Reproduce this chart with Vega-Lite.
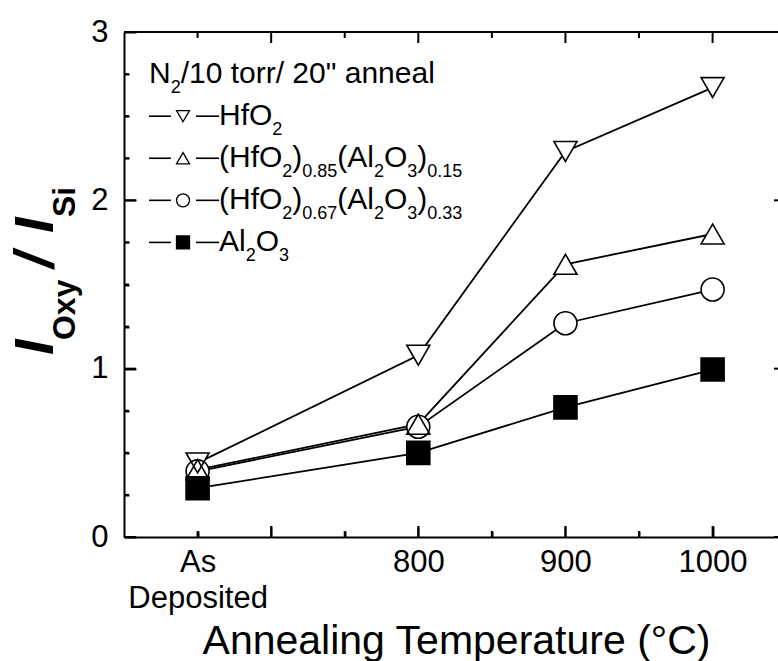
{
  "$schema": "https://vega.github.io/schema/vega-lite/v6.json",
  "width": 654,
  "height": 505,
  "autosize": {"type": "none"},
  "padding": {"left": 124, "top": 32, "right": 0, "bottom": 124},
  "background": "white",
  "config": {
    "view": {"stroke": null, "fill": null},
    "font": "Liberation Sans",
    "axis": {
      "grid": false,
      "domainColor": "black",
      "domainWidth": 2,
      "tickColor": "black",
      "tickWidth": 2,
      "labelColor": "black",
      "labelFont": "Liberation Sans",
      "labelFontSize": 31,
      "labelFlush": false,
      "labelOverlap": false,
      "titleColor": "black",
      "titleFont": "Liberation Sans",
      "titleFontWeight": "normal",
      "zindex": 1
    }
  },
  "datasets": {
    "series": [
      {"series": "HfO2", "temp": 650, "value": 0.44},
      {"series": "HfO2", "temp": 800, "value": 1.08},
      {"series": "HfO2", "temp": 900, "value": 2.29},
      {"series": "HfO2", "temp": 1000, "value": 2.67},
      {"series": "(HfO2)0.85(Al2O3)0.15", "temp": 650, "value": 0.40},
      {"series": "(HfO2)0.85(Al2O3)0.15", "temp": 800, "value": 0.67},
      {"series": "(HfO2)0.85(Al2O3)0.15", "temp": 900, "value": 1.62},
      {"series": "(HfO2)0.85(Al2O3)0.15", "temp": 1000, "value": 1.80},
      {"series": "(HfO2)0.67(Al2O3)0.33", "temp": 650, "value": 0.39},
      {"series": "(HfO2)0.67(Al2O3)0.33", "temp": 800, "value": 0.655},
      {"series": "(HfO2)0.67(Al2O3)0.33", "temp": 900, "value": 1.27},
      {"series": "(HfO2)0.67(Al2O3)0.33", "temp": 1000, "value": 1.47},
      {"series": "Al2O3", "temp": 650, "value": 0.29},
      {"series": "Al2O3", "temp": 800, "value": 0.50},
      {"series": "Al2O3", "temp": 900, "value": 0.77},
      {"series": "Al2O3", "temp": 1000, "value": 0.995}
    ],
    "xmajor": [{"v": 700}, {"v": 800}, {"v": 900}, {"v": 1000}],
    "xminor": [{"v": 650}, {"v": 750}, {"v": 850}, {"v": 950}],
    "ymajor": [{"v": 0}, {"v": 1}, {"v": 2}, {"v": 3}],
    "yminor": [{"v": 0.25}, {"v": 0.5}, {"v": 0.75}, {"v": 1.25}, {"v": 1.5}, {"v": 1.75}, {"v": 2.25}, {"v": 2.5}, {"v": 2.75}],
    "legend": [
      {"series": "HfO2", "y": 2.5},
      {"series": "(HfO2)0.85(Al2O3)0.15", "y": 2.25},
      {"series": "(HfO2)0.67(Al2O3)0.33", "y": 2.0},
      {"series": "Al2O3", "y": 1.75}
    ],
    "legtext": [
      {"t": "N", "x": 617.0, "y": 2.75},
      {"t": "/10 torr/ 20\" anneal", "x": 638.5, "y": 2.75},
      {"t": "HfO", "x": 664.6, "y": 2.5},
      {"t": "(HfO", "x": 664.6, "y": 2.25},
      {"t": ")", "x": 714.4, "y": 2.25},
      {"t": "(Al", "x": 744.9, "y": 2.25},
      {"t": "O", "x": 776.7, "y": 2.25},
      {"t": ")", "x": 799.3, "y": 2.25},
      {"t": "(HfO", "x": 664.6, "y": 2.0},
      {"t": ")", "x": 714.4, "y": 2.0},
      {"t": "(Al", "x": 744.9, "y": 2.0},
      {"t": "O", "x": 776.7, "y": 2.0},
      {"t": ")", "x": 799.3, "y": 2.0},
      {"t": "Al", "x": 664.6, "y": 1.75},
      {"t": "O", "x": 689.5, "y": 1.75}
    ],
    "legsub": [
      {"t": "2", "x": 631.7, "y": 2.75},
      {"t": "2", "x": 700.8, "y": 2.5},
      {"t": "2", "x": 707.6, "y": 2.25},
      {"t": "0.85", "x": 721.2, "y": 2.25},
      {"t": "2", "x": 769.9, "y": 2.25},
      {"t": "3", "x": 792.5, "y": 2.25},
      {"t": "0.15", "x": 806.1, "y": 2.25},
      {"t": "2", "x": 707.6, "y": 2.0},
      {"t": "0.67", "x": 721.2, "y": 2.0},
      {"t": "2", "x": 769.9, "y": 2.0},
      {"t": "3", "x": 792.5, "y": 2.0},
      {"t": "0.33", "x": 806.1, "y": 2.0},
      {"t": "2", "x": 682.7, "y": 1.75},
      {"t": "3", "x": 705.3, "y": 1.75}
    ],
    "ytitle": [
      {"t": "I", "x": 551.7, "y": 1.081},
      {"t": "/", "x": 551.7, "y": 1.598},
      {"t": "I", "x": 551.7, "y": 1.806}
    ],
    "ytitlesub": [
      {"t": "Oxy", "x": 566.7, "y": 1.170},
      {"t": "Si", "x": 566.7, "y": 1.901}
    ]
  },
  "resolve": {
    "scale": {"x": "shared", "y": "shared", "size": "independent"},
    "axis": {"x": "independent", "y": "independent"}
  },
  "layer": [
    {
      "data": {"name": "series"},
      "mark": {"type": "line", "color": "black", "strokeWidth": 1.8},
      "encoding": {
        "x": {
          "field": "temp", "type": "quantitative",
          "scale": {"domain": [600, 1044.44], "nice": false, "zero": false},
          "axis": {
            "orient": "top",
            "offset": -505,
            "zindex": 1,
            "values": [650, 700, 750, 800, 850, 900, 950, 1000],
            "tickSize": 11,
            "tickColor": "black",
            "tickWidth": 2,
            "tickDash": {"condition": {"test": "datum.value % 100 !== 0", "value": [6, 100]}, "value": []},
            "domainColor": "black",
            "labelPadding": -21,
            "labelBaseline": "top",
            "labelLineHeight": 36,
            "labelExpr": "datum.value === 650 ? ['As', 'Deposited'] : (datum.value >= 800 && datum.value % 100 === 0 ? format(datum.value, 'd') : '')",
            "domain": true,
            "title": "Annealing Temperature (°C)",
            "titleFontSize": 41,
            "titleBaseline": "alphabetic",
            "titleY": 116,
            "titleX": 332
          }
        },
        "y": {
          "field": "value", "type": "quantitative",
          "scale": {"domain": [0, 3], "nice": false, "zero": false},
          "axis": {
            "orient": "right",
            "offset": -654,
            "zindex": 1,
            "values": [0, 0.25, 0.5, 0.75, 1, 1.25, 1.5, 1.75, 2, 2.25, 2.5, 2.75, 3],
            "tickSize": 12,
            "tickColor": "black",
            "tickWidth": 2,
            "tickDash": {"condition": {"test": "datum.value % 1 !== 0", "value": [5, 100]}, "value": []},
            "domainColor": "black",
            "labelPadding": -28,
            "labelAlign": "right",
            "labelBaseline": "middle",
            "labelExpr": "datum.value % 1 === 0 ? format(datum.value, 'd') : ''",
            "domain": true,
            "title": null
          }
        },
        "detail": {"field": "series", "type": "nominal"}
      }
    },
    {
      "data": {"name": "xmajor"},
      "mark": {"type": "rule", "color": "black", "strokeWidth": 2},
      "encoding": {
        "x": {"field": "v", "type": "quantitative", "axis": null},
        "y": {"datum": 0, "type": "quantitative", "axis": null},
        "y2": {"datum": 0.0654}
      }
    },
    {
      "data": {"name": "xmajor"},
      "mark": {"type": "rule", "color": "black", "strokeWidth": 2},
      "encoding": {
        "x": {"field": "v", "type": "quantitative", "axis": null},
        "y": {"datum": 3, "type": "quantitative", "axis": null},
        "y2": {"datum": 2.9346}
      }
    },
    {
      "data": {"name": "xminor"},
      "mark": {"type": "rule", "color": "black", "strokeWidth": 2},
      "encoding": {
        "x": {"field": "v", "type": "quantitative", "axis": null},
        "y": {"datum": 0, "type": "quantitative", "axis": null},
        "y2": {"datum": 0.0356}
      }
    },
    {
      "data": {"name": "xminor"},
      "mark": {"type": "rule", "color": "black", "strokeWidth": 2},
      "encoding": {
        "x": {"field": "v", "type": "quantitative", "axis": null},
        "y": {"datum": 3, "type": "quantitative", "axis": null},
        "y2": {"datum": 2.9644}
      }
    },
    {
      "data": {"name": "ymajor"},
      "mark": {"type": "rule", "color": "black", "strokeWidth": 2},
      "encoding": {
        "y": {"field": "v", "type": "quantitative", "axis": null},
        "x": {"datum": 600, "type": "quantitative", "axis": null},
        "x2": {"datum": 608.16}
      }
    },
    {
      "data": {"name": "yminor"},
      "mark": {"type": "rule", "color": "black", "strokeWidth": 2},
      "encoding": {
        "y": {"field": "v", "type": "quantitative", "axis": null},
        "x": {"datum": 600, "type": "quantitative", "axis": null},
        "x2": {"datum": 603.4}
      }
    },
    {
      "data": {"name": "ymajor"},
      "mark": {"type": "rule", "color": "black", "strokeWidth": 2},
      "encoding": {
        "y": {"field": "v", "type": "quantitative", "axis": null},
        "x": {"datum": 1041.73, "type": "quantitative", "axis": null},
        "x2": {"datum": 1049.88}
      }
    },
    {
      "data": {"name": "ymajor"},
      "transform": [{"filter": "datum.v === 3"}],
      "mark": {"type": "rule", "color": "black", "strokeWidth": 2},
      "encoding": {
        "y": {"field": "v", "type": "quantitative", "axis": null},
        "x": {"datum": 600, "type": "quantitative", "axis": null},
        "x2": {"datum": 1044.44}
      }
    },
    {
      "data": {"name": "series"},
      "mark": {"type": "point", "filled": true, "opacity": 1, "strokeWidth": 0},
      "encoding": {
        "x": {"field": "temp", "type": "quantitative", "axis": null},
        "y": {"field": "value", "type": "quantitative", "axis": null},
        "shape": {"field": "series", "type": "nominal",
          "scale": {"domain": ["HfO2", "(HfO2)0.85(Al2O3)0.15", "(HfO2)0.67(Al2O3)0.33", "Al2O3"], "range": ["triangle-down", "triangle-up", "circle", "square"]}, "legend": null},
        "size": {"field": "series", "type": "nominal",
          "scale": {"domain": ["HfO2", "(HfO2)0.85(Al2O3)0.15", "(HfO2)0.67(Al2O3)0.33", "Al2O3"], "range": [529, 529, 400, 361]}, "legend": null},
        "fill": {"field": "series", "type": "nominal",
          "scale": {"domain": ["HfO2", "(HfO2)0.85(Al2O3)0.15", "(HfO2)0.67(Al2O3)0.33", "Al2O3"], "range": ["white", "white", "white", "black"]}, "legend": null}
      }
    },
    {
      "data": {"name": "series"},
      "mark": {"type": "point", "filled": false, "color": "black", "strokeWidth": 1.6, "opacity": 1},
      "encoding": {
        "x": {"field": "temp", "type": "quantitative", "axis": null},
        "y": {"field": "value", "type": "quantitative", "axis": null},
        "shape": {"field": "series", "type": "nominal", "legend": null},
        "size": {"field": "series", "type": "nominal",
          "scale": {"domain": ["HfO2", "(HfO2)0.85(Al2O3)0.15", "(HfO2)0.67(Al2O3)0.33", "Al2O3"], "range": [529, 529, 400, 361]}, "legend": null}
      }
    },
    {
      "data": {"name": "legend"},
      "mark": {"type": "rule", "color": "black", "strokeWidth": 1.6},
      "encoding": {
        "x": {"datum": 617.0, "type": "quantitative", "axis": null},
        "x2": {"datum": 631.9},
        "y": {"field": "y", "type": "quantitative", "axis": null}
      }
    },
    {
      "data": {"name": "legend"},
      "mark": {"type": "rule", "color": "black", "strokeWidth": 1.6},
      "encoding": {
        "x": {"datum": 648.9, "type": "quantitative", "axis": null},
        "x2": {"datum": 664.6},
        "y": {"field": "y", "type": "quantitative", "axis": null}
      }
    },
    {
      "data": {"name": "legend"},
      "mark": {"type": "point", "filled": true, "stroke": "black", "strokeWidth": 1.3, "opacity": 1},
      "encoding": {
        "x": {"datum": 640.1, "type": "quantitative", "axis": null},
        "y": {"field": "y", "type": "quantitative", "axis": null},
        "shape": {"field": "series", "type": "nominal", "legend": null},
        "fill": {"field": "series", "type": "nominal", "legend": null},
        "size": {"field": "series", "type": "nominal",
          "scale": {"domain": ["HfO2", "(HfO2)0.85(Al2O3)0.15", "(HfO2)0.67(Al2O3)0.33", "Al2O3"], "range": [169, 169, 144, 144]}, "legend": null}
      }
    },
    {
      "data": {"name": "legtext"},
      "mark": {"type": "text", "align": "left", "baseline": "middle", "fontSize": 30, "font": "Liberation Sans", "color": "black"},
      "encoding": {
        "x": {"field": "x", "type": "quantitative", "axis": null},
        "y": {"field": "y", "type": "quantitative", "axis": null},
        "text": {"field": "t"}
      }
    },
    {
      "data": {"name": "legsub"},
      "mark": {"type": "text", "align": "left", "baseline": "middle", "fontSize": 18, "dy": 14, "font": "Liberation Sans", "color": "black"},
      "encoding": {
        "x": {"field": "x", "type": "quantitative", "axis": null},
        "y": {"field": "y", "type": "quantitative", "axis": null},
        "text": {"field": "t"}
      }
    },
    {
      "data": {"name": "ytitle"},
      "mark": {"type": "text", "align": "left", "baseline": "alphabetic", "angle": 270, "fontSize": 56, "fontWeight": "bold", "fontStyle": "italic", "font": "Liberation Sans", "color": "black"},
      "encoding": {
        "x": {"field": "x", "type": "quantitative", "axis": null},
        "y": {"field": "y", "type": "quantitative", "axis": null},
        "text": {"field": "t"}
      }
    },
    {
      "data": {"name": "ytitlesub"},
      "mark": {"type": "text", "align": "left", "baseline": "alphabetic", "angle": 270, "fontSize": 32, "fontWeight": "bold", "font": "Liberation Sans", "color": "black"},
      "encoding": {
        "x": {"field": "x", "type": "quantitative", "axis": null},
        "y": {"field": "y", "type": "quantitative", "axis": null},
        "text": {"field": "t"}
      }
    }
  ]
}
